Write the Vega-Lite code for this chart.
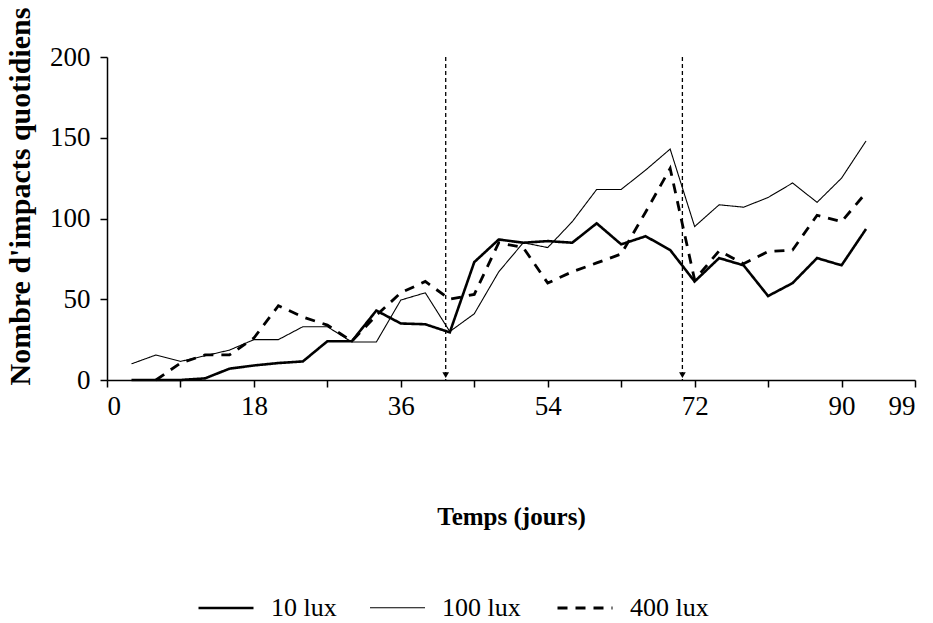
{
  "$schema": "https://vega.github.io/schema/vega-lite/v6.json",
  "width": 808,
  "height": 323,
  "autosize": "none",
  "padding": {"left": 107, "top": 57, "right": 18, "bottom": 243},
  "background": "white",
  "config": {
    "view": {"stroke": null},
    "font": "Times New Roman, Liberation Serif, serif",
    "axis": {"domainColor": "black", "tickColor": "black", "labelColor": "black", "titleColor": "black", "grid": false, "labelFont": "Times New Roman, Liberation Serif, serif", "titleFont": "Times New Roman, Liberation Serif, serif"},
    "legend": {"labelFont": "Times New Roman, Liberation Serif, serif", "labelColor": "black"}
  },
  "datasets": {
    "series": [
      {"jour": 3, "serie": "10 lux", "impacts": 0},
      {"jour": 6, "serie": "10 lux", "impacts": 0},
      {"jour": 9, "serie": "10 lux", "impacts": 0},
      {"jour": 12, "serie": "10 lux", "impacts": 1},
      {"jour": 15, "serie": "10 lux", "impacts": 7},
      {"jour": 18, "serie": "10 lux", "impacts": 9},
      {"jour": 21, "serie": "10 lux", "impacts": 10.5},
      {"jour": 24, "serie": "10 lux", "impacts": 11.5},
      {"jour": 27, "serie": "10 lux", "impacts": 24},
      {"jour": 30, "serie": "10 lux", "impacts": 24},
      {"jour": 33, "serie": "10 lux", "impacts": 43},
      {"jour": 36, "serie": "10 lux", "impacts": 35},
      {"jour": 39, "serie": "10 lux", "impacts": 34.5},
      {"jour": 42, "serie": "10 lux", "impacts": 29.5},
      {"jour": 45, "serie": "10 lux", "impacts": 73},
      {"jour": 48, "serie": "10 lux", "impacts": 87},
      {"jour": 51, "serie": "10 lux", "impacts": 85},
      {"jour": 54, "serie": "10 lux", "impacts": 86},
      {"jour": 57, "serie": "10 lux", "impacts": 85},
      {"jour": 60, "serie": "10 lux", "impacts": 97},
      {"jour": 63, "serie": "10 lux", "impacts": 84},
      {"jour": 66, "serie": "10 lux", "impacts": 89},
      {"jour": 69, "serie": "10 lux", "impacts": 80.5},
      {"jour": 72, "serie": "10 lux", "impacts": 61},
      {"jour": 75, "serie": "10 lux", "impacts": 75.5},
      {"jour": 78, "serie": "10 lux", "impacts": 71},
      {"jour": 81, "serie": "10 lux", "impacts": 52},
      {"jour": 84, "serie": "10 lux", "impacts": 60},
      {"jour": 87, "serie": "10 lux", "impacts": 75.5},
      {"jour": 90, "serie": "10 lux", "impacts": 71},
      {"jour": 93, "serie": "10 lux", "impacts": 93.5},
      {"jour": 3, "serie": "100 lux", "impacts": 10},
      {"jour": 6, "serie": "100 lux", "impacts": 15.5},
      {"jour": 9, "serie": "100 lux", "impacts": 11.5},
      {"jour": 12, "serie": "100 lux", "impacts": 15},
      {"jour": 15, "serie": "100 lux", "impacts": 18.5},
      {"jour": 18, "serie": "100 lux", "impacts": 25},
      {"jour": 21, "serie": "100 lux", "impacts": 25},
      {"jour": 24, "serie": "100 lux", "impacts": 33},
      {"jour": 27, "serie": "100 lux", "impacts": 33},
      {"jour": 30, "serie": "100 lux", "impacts": 23.5},
      {"jour": 33, "serie": "100 lux", "impacts": 23.5},
      {"jour": 36, "serie": "100 lux", "impacts": 49.5},
      {"jour": 39, "serie": "100 lux", "impacts": 54},
      {"jour": 42, "serie": "100 lux", "impacts": 30},
      {"jour": 45, "serie": "100 lux", "impacts": 41},
      {"jour": 48, "serie": "100 lux", "impacts": 67},
      {"jour": 51, "serie": "100 lux", "impacts": 85},
      {"jour": 54, "serie": "100 lux", "impacts": 82},
      {"jour": 57, "serie": "100 lux", "impacts": 98},
      {"jour": 60, "serie": "100 lux", "impacts": 118},
      {"jour": 63, "serie": "100 lux", "impacts": 118},
      {"jour": 66, "serie": "100 lux", "impacts": 130},
      {"jour": 69, "serie": "100 lux", "impacts": 143},
      {"jour": 72, "serie": "100 lux", "impacts": 95},
      {"jour": 75, "serie": "100 lux", "impacts": 108.5},
      {"jour": 78, "serie": "100 lux", "impacts": 107},
      {"jour": 81, "serie": "100 lux", "impacts": 113},
      {"jour": 84, "serie": "100 lux", "impacts": 122},
      {"jour": 87, "serie": "100 lux", "impacts": 110},
      {"jour": 90, "serie": "100 lux", "impacts": 125},
      {"jour": 93, "serie": "100 lux", "impacts": 148},
      {"jour": 6, "serie": "400 lux", "impacts": 0},
      {"jour": 9, "serie": "400 lux", "impacts": 10.5},
      {"jour": 12, "serie": "400 lux", "impacts": 15.5},
      {"jour": 15, "serie": "400 lux", "impacts": 15.5},
      {"jour": 18, "serie": "400 lux", "impacts": 26},
      {"jour": 21, "serie": "400 lux", "impacts": 46},
      {"jour": 24, "serie": "400 lux", "impacts": 39},
      {"jour": 27, "serie": "400 lux", "impacts": 34},
      {"jour": 30, "serie": "400 lux", "impacts": 24},
      {"jour": 33, "serie": "400 lux", "impacts": 40},
      {"jour": 36, "serie": "400 lux", "impacts": 54},
      {"jour": 39, "serie": "400 lux", "impacts": 61},
      {"jour": 42, "serie": "400 lux", "impacts": 50},
      {"jour": 45, "serie": "400 lux", "impacts": 53},
      {"jour": 48, "serie": "400 lux", "impacts": 85},
      {"jour": 51, "serie": "400 lux", "impacts": 82},
      {"jour": 54, "serie": "400 lux", "impacts": 60},
      {"jour": 57, "serie": "400 lux", "impacts": 67},
      {"jour": 60, "serie": "400 lux", "impacts": 72.5},
      {"jour": 63, "serie": "400 lux", "impacts": 78},
      {"jour": 66, "serie": "400 lux", "impacts": 104},
      {"jour": 69, "serie": "400 lux", "impacts": 131},
      {"jour": 72, "serie": "400 lux", "impacts": 62},
      {"jour": 75, "serie": "400 lux", "impacts": 80},
      {"jour": 78, "serie": "400 lux", "impacts": 72},
      {"jour": 81, "serie": "400 lux", "impacts": 79.5},
      {"jour": 84, "serie": "400 lux", "impacts": 80.5},
      {"jour": 87, "serie": "400 lux", "impacts": 102},
      {"jour": 90, "serie": "400 lux", "impacts": 98},
      {"jour": 93, "serie": "400 lux", "impacts": 116}
    ],
    "events": [{"jour": 41.5}, {"jour": 70.5}]
  },
  "encoding": {
    "x": {
      "field": "jour",
      "type": "quantitative",
      "scale": {"domain": [0, 99], "nice": false, "zero": false},
      "axis": {
        "values": [0, 9, 18, 27, 36, 45, 54, 63, 72, 81, 90, 99],
        "labelExpr": "datum.value % 18 == 0 || datum.value == 99 ? datum.label : ''",
        "labelOverlap": false,
        "labelFlush": true,
        "tickSize": 7,
        "tickWidth": 1.5,
        "domainWidth": 1.5,
        "labelFontSize": 27,
        "labelPadding": 6,
        "title": "Temps (jours)",
        "titleFontSize": 25,
        "titleFontWeight": "bold",
        "titlePadding": 85
      }
    }
  },
  "layer": [
    {
      "data": {"name": "events"},
      "mark": {"type": "rule", "strokeDash": [4, 3], "strokeWidth": 1.3, "color": "black"},
      "encoding": {}
    },
    {
      "data": {"name": "events"},
      "mark": {"type": "point", "shape": "triangle-down", "filled": true, "color": "black", "size": 45, "opacity": 1},
      "encoding": {"y": {"datum": 3, "type": "quantitative"}}
    },
    {
      "data": {"name": "series"},
      "mark": {"type": "line"},
      "encoding": {
        "y": {
          "field": "impacts",
          "type": "quantitative",
          "scale": {"domain": [0, 200], "nice": false},
          "axis": {
            "values": [0, 50, 100, 150, 200],
            "tickSize": 7,
            "tickWidth": 1.5,
            "domainWidth": 1.5,
            "labelFontSize": 27,
            "labelPadding": 10,
            "title": "Nombre d'impacts quotidiens",
            "titleFontSize": 30,
            "titleFontWeight": "bold",
            "titleAngle": -90,
            "titleAlign": "left",
            "titleBaseline": "middle",
            "titleX": -87,
            "titleY": 328
          }
        },
        "color": {
          "field": "serie",
          "type": "nominal",
          "scale": {"domain": ["10 lux", "100 lux", "400 lux"], "range": ["black", "black", "black"]},
          "legend": {"orient": "none", "legendX": 90, "legendY": 522, "direction": "horizontal", "title": null, "symbolType": "stroke", "symbolSize": 3025, "labelFontSize": 26, "labelOffset": 16, "columnPadding": 30}
        },
        "strokeDash": {
          "field": "serie",
          "type": "nominal",
          "scale": {"domain": ["10 lux", "100 lux", "400 lux"], "range": [[1, 0], [1, 0], [10, 8]]},
          "legend": {"orient": "none", "legendX": 90, "legendY": 522, "direction": "horizontal", "title": null, "symbolType": "stroke", "symbolSize": 3025, "labelFontSize": 26, "labelOffset": 16, "columnPadding": 30}
        },
        "strokeWidth": {
          "field": "serie",
          "type": "nominal",
          "scale": {"type": "ordinal", "domain": ["10 lux", "100 lux", "400 lux"], "range": [2.6, 1.1, 2.8]},
          "legend": {"orient": "none", "legendX": 90, "legendY": 522, "direction": "horizontal", "title": null, "symbolType": "stroke", "symbolSize": 3025, "labelFontSize": 26, "labelOffset": 16, "columnPadding": 30}
        }
      }
    }
  ]
}
